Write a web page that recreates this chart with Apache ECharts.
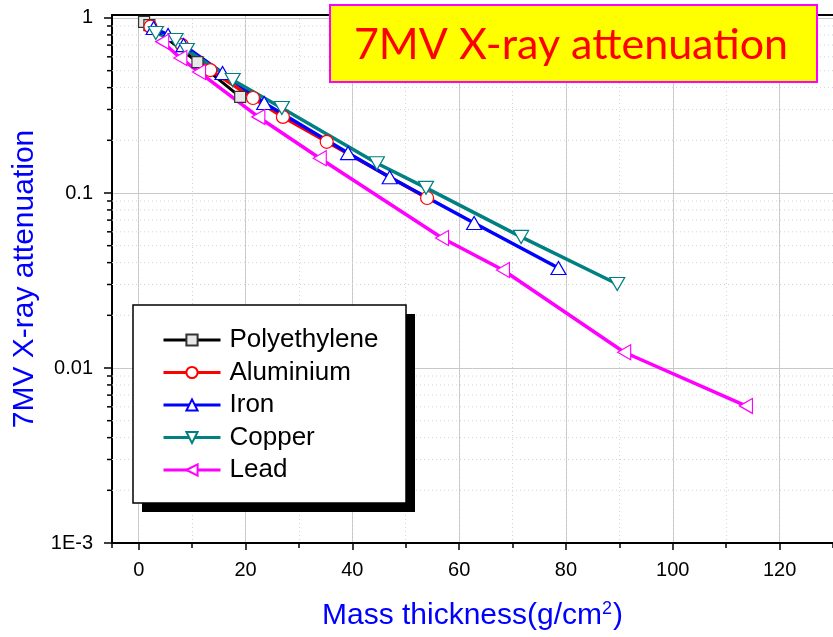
<!DOCTYPE html>
<html><head><meta charset="utf-8">
<script src="https://cdn.jsdelivr.net/npm/echarts@6/dist/echarts.min.js"></script>
<style>html,body{margin:0;padding:0;background:#fff;}#c{width:833px;height:637px;}</style>
</head><body><div id="c"></div>
<script>
// ---- data (mass thickness g/cm2, attenuation) ----
const seriesNames = ['Polyethylene', 'Aluminium', 'Iron', 'Copper', 'Lead'];
const polyX = [1.0, 2.0, 11.0, 19.0];
const polyY = [0.95, 0.91, 0.56, 0.354];
const alX = [2.2, 8.1, 13.4, 21.4, 27.0, 35.2, 54.0];
const alY = [0.892, 0.70, 0.504, 0.349, 0.272, 0.196, 0.0936];
const feX = [2.8, 5.5, 8.4, 15.7, 23.5, 39.2, 47.0, 62.8, 78.6];
const feY = [0.877, 0.80, 0.70, 0.485, 0.327, 0.169, 0.123, 0.0674, 0.0373];
const cuX = [3.2, 6.9, 9.0, 17.6, 26.8, 44.6, 53.8, 71.6, 89.6];
const cuY = [0.82, 0.749, 0.656, 0.442, 0.306, 0.148, 0.107, 0.0561, 0.0302];
const pbX = [4.4, 7.8, 11.3, 22.4, 33.9, 56.8, 68.2, 90.9, 113.7];
const pbY = [0.732, 0.591, 0.491, 0.272, 0.158, 0.0553, 0.0363, 0.0123, 0.00607];
const yTickValues = [0.001, 0.01, 0.1, 1];
const yTickLabels = ['1E-3', '0.01', '0.1', '1'];
const yMinorValues = [0.002,0.003,0.004,0.005,0.006,0.007,0.008,0.009,
                      0.02,0.03,0.04,0.05,0.06,0.07,0.08,0.09,
                      0.2,0.3,0.4,0.5,0.6,0.7,0.8,0.9];
const chartTitle = '7MV X-ray attenuation';
const xTitle = 'Mass thickness(g/cm{sup|2})';
const yTitle = '7MV X-ray attenuation';

function pairs(xs, ys) { return xs.map((x, i) => [x, ys[i]]); }

const FONT = 'Liberation Sans, Arial, sans-serif';
const chart = echarts.init(document.getElementById('c'), null, {renderer: 'canvas'});

function lineSeries(name, xs, ys, color, symbol, rotate, size, fill, border, width) {
  return {
    name: name, type: 'line', data: pairs(xs, ys),
    symbol: symbol, symbolRotate: rotate, symbolSize: size, showSymbol: true,
    lineStyle: {color: color, width: width},
    itemStyle: {color: fill, borderColor: border, borderWidth: 1.2},
    emphasis: {disabled: true}, z: 3
  };
}

const option = {
  animation: false,
  backgroundColor: '#fff',
  grid: {left: 112, top: 15, right: -3, bottom: 94, containLabel: false},
  xAxis: [
    {
      type: 'value', position: 'bottom', min: -5, max: 130, splitNumber: 7,
      axisLine: {show: true, onZero: false, lineStyle: {color: '#000', width: 2}},
      axisTick: {show: true, length: 7, lineStyle: {color: '#000', width: 1.5}},
      axisLabel: {fontSize: 20, color: '#000', fontFamily: FONT, margin: 17, showMinLabel: false, showMaxLabel: false},
      splitLine: {show: true, lineStyle: {color: '#c8c8c8', width: 1}},
      name: xTitle, nameLocation: 'middle', nameGap: 57,
      nameTextStyle: {color: '#0000ff', fontSize: 30, fontFamily: FONT,
        rich: {sup: {color: '#0000ff', fontSize: 18, fontFamily: FONT, verticalAlign: 'top', padding: [0, 1, 14, 0]}}}
    },
    {
      type: 'value', position: 'bottom', min: -5, max: 130, splitNumber: 14,
      axisLine: {show: false}, axisTick: {show: true, length: 5, lineStyle: {color: '#000', width: 1.5}},
      axisLabel: {show: false},
      splitLine: {show: true, lineStyle: {color: '#d4d4d4', width: 1, type: [1, 3]}}
    },
    {
      type: 'value', position: 'top', min: -5, max: 130,
      axisLine: {show: true, onZero: false, lineStyle: {color: '#000', width: 2}},
      axisTick: {show: false}, axisLabel: {show: false}, splitLine: {show: false}
    }
  ],
  yAxis: {
    type: 'log', logBase: 10, min: 0.001, max: 1.04,
    axisLine: {show: true, onZero: false, lineStyle: {color: '#000', width: 2}},
    axisTick: {show: true, length: 8, lineStyle: {color: '#000', width: 1.5}},
    axisLabel: {
      fontSize: 20, color: '#000', fontFamily: FONT, margin: 19, showMaxLabel: false,
      formatter: function (v) {
        const lg = Math.log10(v);
        for (let i = 0; i < yTickValues.length; i++) {
          if (Math.abs(lg - Math.log10(yTickValues[i])) < 1e-6) return yTickLabels[i];
        }
        return '';
      }
    },
    splitLine: {show: true, lineStyle: {color: '#c8c8c8', width: 1}},
    name: yTitle, nameLocation: 'middle', nameGap: 68,
    nameTextStyle: {color: '#0000ff', fontSize: 30, fontFamily: FONT}
  },
  legend: {
    data: seriesNames, orient: 'vertical', left: 133, top: 307, z: 20,
    itemWidth: 57, itemHeight: 14, itemGap: 6.5,
    padding: [20, 28, 21, 29],
    lineStyle: {width: 3},
    textStyle: {fontSize: 26, color: '#000', fontFamily: FONT, padding: [0, 0, 0, 4]},
    selectedMode: false
  },
  graphic: [
    {type: 'rect', z: 10, shape: {x: 142, y: 314, width: 273, height: 198},
     style: {fill: '#000', stroke: null}},
    {type: 'rect', z: 11, shape: {x: 133, y: 305, width: 273, height: 198},
     style: {fill: '#fff', stroke: '#000', lineWidth: 1.5}},
    {type: 'rect', z: 100, shape: {x: 330, y: 5, width: 487, height: 77},
     style: {fill: '#ffff00', stroke: '#ff00ff', lineWidth: 2}},
    {type: 'text', z: 101, x: 571, y: 45,
     style: {text: chartTitle, fill: '#ff0000', font: '43px Lato, "Open Sans", sans-serif', textAlign: 'center', textVerticalAlign: 'middle'}}
  ],
  series: [
    {
      type: 'custom', name: 'yMinor', silent: true, z: 1, clip: false,
      data: yMinorValues.map(v => [0, v]),
      renderItem: function (params, api) {
        const cs = params.coordSys;
        const y = api.coord([0, api.value(1)])[1];
        return {type: 'group', children: [
          {type: 'line', shape: {x1: cs.x, y1: y, x2: cs.x + cs.width, y2: y},
           style: {stroke: '#d4d4d4', lineWidth: 1, lineDash: [1, 3]}},
          {type: 'line', shape: {x1: cs.x - 5, y1: y, x2: cs.x, y2: y},
           style: {stroke: '#000', lineWidth: 1.5}}
        ]};
      }
    },
    lineSeries('Polyethylene', polyX, polyY, '#000000', 'rect', 0, 11, '#e8e8e8', '#333333', 3),
    lineSeries('Aluminium', alX, alY, '#ff0000', 'circle', 0, 13, '#ffffff', '#ff0000', 3.5),
    lineSeries('Iron', feX, feY, '#0000ff', 'triangle', 0, [15, 13], '#ffffff', '#0000ff', 3.5),
    lineSeries('Copper', cuX, cuY, '#008080', 'triangle', 180, [15, 13], '#ffffff', '#008080', 3.5),
    lineSeries('Lead', pbX, pbY, '#ff00ff', 'triangle', 90, [15, 13], '#ffffff', '#ff00ff', 3.5)
  ]
};
chart.setOption(option);
</script>
</body></html>
